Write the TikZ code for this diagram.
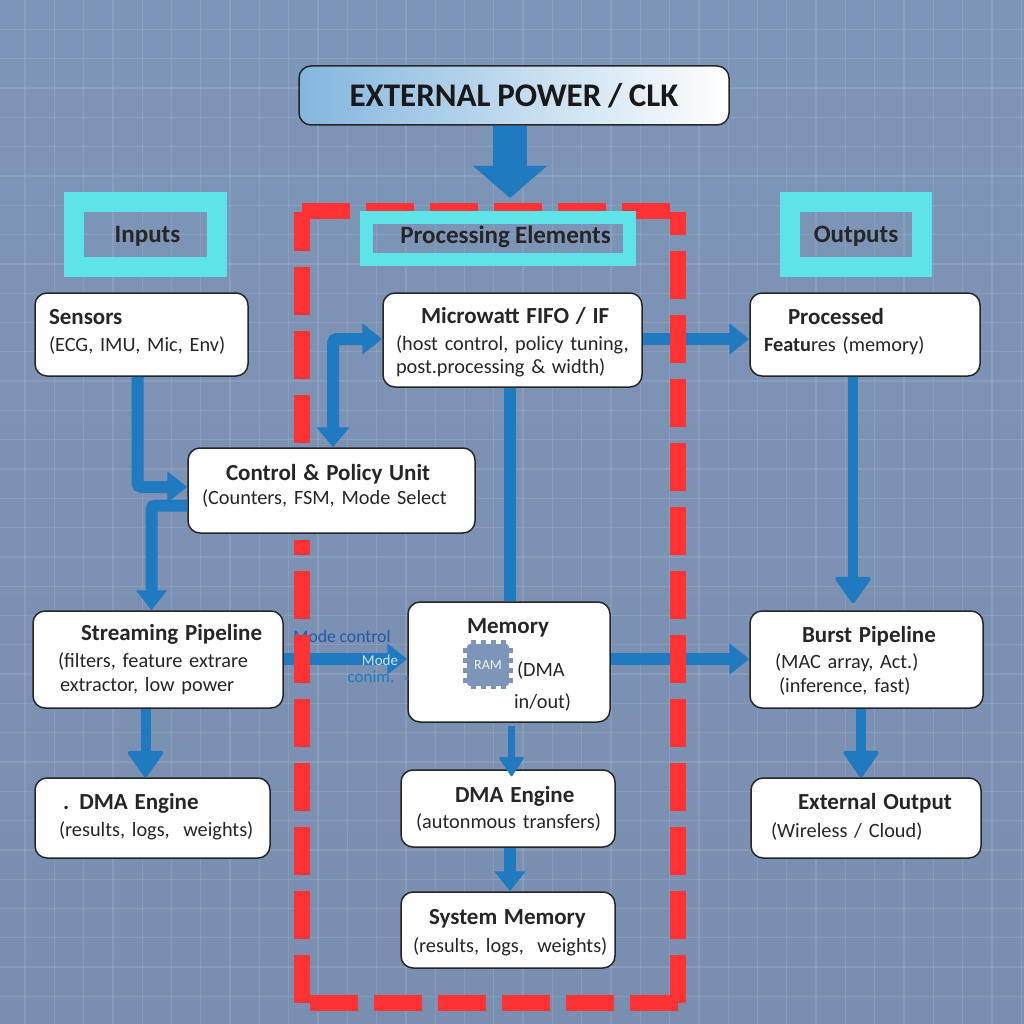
\documentclass[tikz,border=0pt]{standalone}
\usepackage{fontspec}
\setmainfont{Carlito}[WordSpace=0.9]
\usepackage{xcolor}
\usetikzlibrary{arrows.meta}
\definecolor{flowblue}{RGB}{31,122,192}
\definecolor{bgtop}{RGB}{125,149,184}
\definecolor{bgmid}{RGB}{122,140,172}
\definecolor{bgbot}{RGB}{122,143,176}
\definecolor{dashred}{RGB}{255,51,51}
\definecolor{headcyan}{RGB}{92,228,232}
\definecolor{chipblue}{RGB}{124,149,184}
\definecolor{modeblue}{RGB}{35,90,170}
\definecolor{powerleft}{RGB}{130,182,221}
\definecolor{powermid}{RGB}{208,226,242}
\newcommand{\boxtitle}[1]{{\fontsize{23}{24}\selectfont\bfseries #1}}
\newcommand{\liftup}[1]{\par\nointerlineskip\vskip#1\hbox{}}
\tikzset{
  box/.style 2 args={draw=black!85, fill=white, line width=1.5pt, rounded corners=12pt,
    minimum height=#2, inner sep=0pt, text width=#1, align=left,
    font=\fontsize{20.3}{24}\selectfont, text=black!85},
  head/.style={draw=headcyan, inner sep=0pt, text height=22pt, text depth=5pt,
    font=\fontsize{25}{28}\selectfont\bfseries, text=black!85},
  flow/.style={flowblue, line width=12pt, -{Triangle[length=20pt,width=30pt]}},
  fatflow/.style={flowblue, line width=10pt, -{Triangle[length=28pt,width=38pt,round,line width=4pt]}},
  plainflow/.style={flowblue, line width=12pt},
  reddash/.style={dashred, line width=16pt, dash pattern=on 48pt off 16pt},
  gridline/.style={white, opacity=.1, line width=1.3pt},
}
\begin{document}
\begin{tikzpicture}[x=1pt, y=-1pt]
  \useasboundingbox (0,0) rectangle (1024,1024);
  \shade[top color=bgtop, middle color=bgmid, bottom color=bgbot] (0,0) rectangle (1024,1024);
  \foreach \k in {0,...,34} {
    \draw[gridline] (25+29.3*\k,0) -- (25+29.3*\k,1024);
    \draw[gridline] (0,29.5+29.3*\k) -- (1024,29.5+29.3*\k);
  }

  % Nodes
  \node[draw=black!85, line width=1.5pt, rounded corners=12pt, left color=powerleft, middle color=powermid, right color=white,
    minimum width=430pt, minimum height=59pt, font=\fontsize{33}{36}\selectfont\bfseries, text=black!90] (power) at (514,95.5) {EXTERNAL POWER / CLK};
  \node[box={213pt}{83pt}] (sensors) at (141.5,334.5) {\hspace*{14pt}\boxtitle{Sensors}\\[3pt]\hspace*{14pt}(ECG, IMU, Mic, Env)\liftup{5pt}};
  \node[box={259pt}{94pt}] (fifo) at (512.5,340) {\hspace*{38pt}\boxtitle{Microwatt FIFO / IF}\\[3pt]\hspace*{13pt}(host control, policy tuning,\\[-1pt]\hspace*{13pt}post.processing \& width)\liftup{-5pt}};
  \node[box={230pt}{83pt}] (features) at (865,334.5) {\hspace*{38pt}\boxtitle{Processed}\\[3pt]\hspace*{14pt}\textbf{Featu}res (memory)\liftup{5pt}};
  \node[box={287pt}{85pt}] (control) at (331.5,490.5) {\hspace*{38pt}\boxtitle{Control \& Policy Unit}\\[0pt]\hspace*{14pt}(Counters, FSM, Mode Select\liftup{9pt}};
  \node[box={250pt}{97pt}] (streaming) at (158,659.5) {\hspace*{48pt}\boxtitle{Streaming Pipeline}\\[3pt]\hspace*{25pt}(filters, feature extrare\\\hspace*{27pt}extractor, low power};
  \node[box={202pt}{120pt}] (memory) at (509,662) {\hspace*{59pt}\boxtitle{Memory}\\[19pt]\hspace*{109pt}(DMA\\[8pt]\hspace*{106pt}in/out)\liftup{-5pt}};
  \node[box={233pt}{97pt}] (burst) at (866.5,659.5) {\hspace*{52pt}\boxtitle{Burst Pipeline}\\[2pt]\hspace*{25pt}(MAC array, Act.)\\\hspace*{29pt}(inference, fast)\liftup{-3pt}};
  \node[box={235pt}{80pt}] (dmaleft) at (152.5,818) {\hspace*{28pt}\boxtitle{. DMA Engine}\\[3pt]\hspace*{24pt}(results, logs,\ \ weights)\liftup{2pt}};
  \node[box={214pt}{77pt}] (dmamid) at (508,808.5) {\hspace*{54pt}\boxtitle{DMA Engine}\\[2pt]\hspace*{15pt}(autonmous transfers)};
  \node[box={214pt}{76pt}] (sysmem) at (508,930) {\hspace*{28pt}\boxtitle{System Memory}\\[4pt]\hspace*{12pt}(results, logs,\ \ weights)\liftup{-5pt}};
  \node[box={230pt}{80pt}] (extout) at (866,818) {\hspace*{47pt}\boxtitle{External Output}\\[4pt]\hspace*{20pt}(Wireless / Cloud)\liftup{2pt}};

  % RAM chip
  \foreach \p in {-15,-5,5,15} {
    \draw[chipblue, line width=5pt] (488+\p,640) -- (488+\p,689);
    \draw[chipblue, line width=5pt] (463,665+\p) -- (513,665+\p);
  }
  \node[fill=chipblue, rounded corners=3pt, minimum size=42pt, inner sep=0pt, text=white!90!chipblue, font=\fontsize{14}{16}\selectfont] (ram) at (488,665) {RAM};

  % Edges
  \draw[flowblue, line width=34pt, -{Triangle[length=32pt,width=72pt]}] (power.south -| 510,0) -- (510,198);
  \draw[flow, rounded corners=4pt] ([xshift=-4pt]sensors.south) |- ([yshift=3.5pt]control.west);
  \draw[flow, rounded corners=4pt] ([yshift=-15pt]control.west) -| ([xshift=-6.5pt]streaming.north);
  \draw[flowblue, line width=12pt, rounded corners=4pt, {Triangle[length=20pt,width=32pt]}-{Triangle[length=20pt,width=30pt]}] ([xshift=1.5pt]control.north) |- ([yshift=1pt]fifo.west);
  \draw[flow] ([yshift=1pt]fifo.east) -- ([yshift=-4.5pt]features.west);
  \draw[plainflow] (fifo.south -| memory.north) ++(1,0) -- ([xshift=1pt]memory.north);
  \draw[fatflow] ([xshift=-12pt]features.south) -- ([xshift=-13.5pt,yshift=7pt]burst.north);
  \draw[flow] ([yshift=.5pt]streaming.east) -- ([yshift=3pt]memory.west);
  \draw[flow] ([yshift=3pt]memory.east) -- ([yshift=.5pt]burst.west);
  \draw[fatflow] ([xshift=-12.5pt]streaming.south) -- ([xshift=-7pt]dmaleft.north);
  \draw[fatflow] ([xshift=-5.5pt]burst.south) -- ([xshift=-5pt]extout.north);
  \draw[flowblue, line width=7pt, -{Triangle[length=20pt,width=26pt,round,line width=2pt]}] ([xshift=2.5pt,yshift=-3pt]memory.south) -- ([xshift=3.5pt,yshift=-7pt]dmamid.north);
  \draw[flow] ([xshift=2pt]dmamid.south) -- ([xshift=2pt]sysmem.north);

  % Mode labels
  \node[text=modeblue, inner sep=0pt, font=\fontsize{17.7}{20}\selectfont] (modectl) at (342,636) {Mode control};
  \node[text=white!80!flowblue, inner sep=0pt, font=\fontsize{15}{18}\selectfont] (modetop) at (380,660) {Mode};
  \node[text=flowblue, inner sep=0pt, font=\fontsize{17}{18}\selectfont] (modebot) at (371,677) {conim.};
  \node[text=flowblue, inner sep=0pt, font=\fontsize{11}{12}\selectfont] (modetip) at (407,679) {>>};

  % Dashed frame
  \draw[reddash] (302,211) -- (670,211);
  \draw[reddash] (310,1003) -- (678,1003);
  \draw[reddash] (678,1003) -- (678,212);
  \draw[reddash] (302,1003) -- (302,540);
  \draw[reddash, dash phase=9pt] (302,212) -- (302,448);

  % Headers
  \node[head, line width=20pt, minimum width=143pt, minimum height=65pt] (inputs) at (145.5,234.5) {\hspace*{4pt}Inputs};
  \node[head, line width=13pt, minimum width=263pt, minimum height=42pt, text height=16pt, text depth=6pt] (procs) at (498,238.5) {\hspace*{15pt}Processing Elements};
  \node[head, line width=20pt, minimum width=132pt, minimum height=65pt] (outputs) at (856,234.5) {Outputs};
\end{tikzpicture}
\end{document}
